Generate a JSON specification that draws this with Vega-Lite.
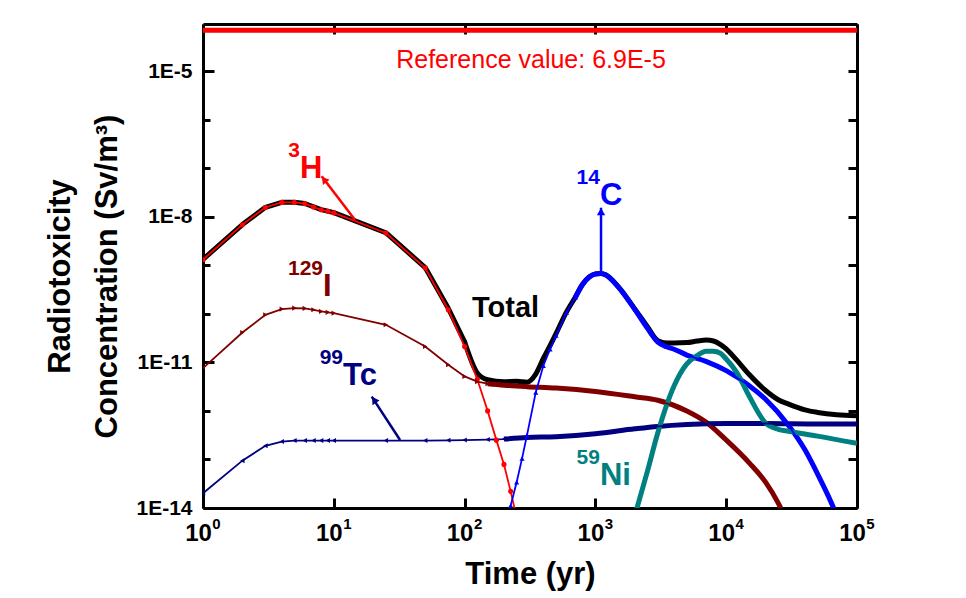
{
  "$schema": "https://vega.github.io/schema/vega-lite/v6.json",
  "width": 654,
  "height": 484,
  "autosize": {"type": "none"},
  "padding": {"left": 203, "top": 24, "right": 109, "bottom": 90},
  "background": "white",
  "config": {
    "view": {"stroke": null},
    "font": "Liberation Sans",
    "axis": {
      "domainColor": "black", "domainWidth": 3,
      "tickColor": "black", "tickWidth": 3,
      "grid": false,
      "labelFont": "Liberation Sans", "labelFontWeight": "bold", "labelColor": "black",
      "titleFont": "Liberation Sans", "titleFontWeight": "bold", "titleColor": "black",
      "labelFlush": false, "labelOverlap": false, "labelBound": false
    }
  },
  "datasets": {
    "curves": [
      {"s": "H3", "t": 1, "v": 1.30e-9}, {"s": "H3", "t": 2, "v": 6.84e-9}, {"s": "H3", "t": 3, "v": 1.55e-8}, {"s": "H3", "t": 4, "v": 1.97e-8}, {"s": "H3", "t": 5, "v": 1.97e-8}, {"s": "H3", "t": 6, "v": 1.86e-8}, {"s": "H3", "t": 7, "v": 1.58e-8}, {"s": "H3", "t": 8, "v": 1.39e-8}, {"s": "H3", "t": 9, "v": 1.29e-8}, {"s": "H3", "t": 10, "v": 1.20e-8}, {"s": "H3", "t": 25, "v": 4.61e-9}, {"s": "H3", "t": 50, "v": 8.75e-10}, {"s": "H3", "t": 75, "v": 1.21e-10}, {"s": "H3", "t": 100, "v": 2.12e-11}, {"s": "H3", "t": 125, "v": 4.47e-12}, {"s": "H3", "t": 150, "v": 1.0e-12}, {"s": "H3", "t": 175, "v": 2.5e-13}, {"s": "H3", "t": 200, "v": 7.9e-14}, {"s": "H3", "t": 225, "v": 2.2e-14}, {"s": "H3", "t": 250, "v": 6.3e-15},
      {"s": "I129", "t": 1, "v": 7.59e-12}, {"s": "I129", "t": 2, "v": 4.12e-11}, {"s": "I129", "t": 3, "v": 9.53e-11}, {"s": "I129", "t": 4, "v": 1.25e-10}, {"s": "I129", "t": 5, "v": 1.31e-10}, {"s": "I129", "t": 6, "v": 1.29e-10}, {"s": "I129", "t": 7, "v": 1.21e-10}, {"s": "I129", "t": 8, "v": 1.12e-10}, {"s": "I129", "t": 9, "v": 1.07e-10}, {"s": "I129", "t": 10, "v": 1.03e-10}, {"s": "I129", "t": 25, "v": 5.93e-11}, {"s": "I129", "t": 50, "v": 2.12e-11}, {"s": "I129", "t": 75, "v": 8.91e-12}, {"s": "I129", "t": 100, "v": 5.13e-12}, {"s": "I129", "t": 125, "v": 4.0e-12}, {"s": "I129", "t": 150, "v": 3.63e-12}, {"s": "I129", "t": 200, "v": 3.39e-12}, {"s": "I129", "t": 300, "v": 3.16e-12}, {"s": "I129", "t": 500, "v": 2.95e-12}, {"s": "I129", "t": 1000, "v": 2.51e-12}, {"s": "I129", "t": 2000, "v": 1.95e-12}, {"s": "I129", "t": 3000, "v": 1.66e-12}, {"s": "I129", "t": 5000, "v": 1.0e-12}, {"s": "I129", "t": 7000, "v": 5.9e-13}, {"s": "I129", "t": 10000, "v": 2.51e-13}, {"s": "I129", "t": 15000, "v": 8.5e-14}, {"s": "I129", "t": 20000, "v": 3.4e-14}, {"s": "I129", "t": 25000, "v": 1.26e-14}, {"s": "I129", "t": 30000, "v": 4.5e-15},
      {"s": "Tc99", "t": 1, "v": 2.01e-14}, {"s": "Tc99", "t": 2, "v": 9.44e-14}, {"s": "Tc99", "t": 3, "v": 1.91e-13}, {"s": "Tc99", "t": 4, "v": 2.34e-13}, {"s": "Tc99", "t": 5, "v": 2.45e-13}, {"s": "Tc99", "t": 6, "v": 2.45e-13}, {"s": "Tc99", "t": 7, "v": 2.45e-13}, {"s": "Tc99", "t": 8, "v": 2.45e-13}, {"s": "Tc99", "t": 9, "v": 2.45e-13}, {"s": "Tc99", "t": 10, "v": 2.45e-13}, {"s": "Tc99", "t": 25, "v": 2.45e-13}, {"s": "Tc99", "t": 50, "v": 2.45e-13}, {"s": "Tc99", "t": 75, "v": 2.48e-13}, {"s": "Tc99", "t": 100, "v": 2.51e-13}, {"s": "Tc99", "t": 150, "v": 2.57e-13}, {"s": "Tc99", "t": 200, "v": 2.63e-13}, {"s": "Tc99", "t": 300, "v": 2.82e-13}, {"s": "Tc99", "t": 500, "v": 2.95e-13}, {"s": "Tc99", "t": 1000, "v": 3.39e-13}, {"s": "Tc99", "t": 2000, "v": 4.27e-13}, {"s": "Tc99", "t": 3000, "v": 4.79e-13}, {"s": "Tc99", "t": 5000, "v": 5.25e-13}, {"s": "Tc99", "t": 10000, "v": 5.5e-13}, {"s": "Tc99", "t": 20000, "v": 5.5e-13}, {"s": "Tc99", "t": 50000, "v": 5.37e-13}, {"s": "Tc99", "t": 100000, "v": 5.37e-13},
      {"s": "C14", "t": 200, "v": 3.3e-15}, {"s": "C14", "t": 225, "v": 1.12e-14}, {"s": "C14", "t": 250, "v": 3.39e-14}, {"s": "C14", "t": 275, "v": 1.05e-13}, {"s": "C14", "t": 300, "v": 3.16e-13}, {"s": "C14", "t": 350, "v": 2.4e-12}, {"s": "C14", "t": 400, "v": 8.51e-12}, {"s": "C14", "t": 450, "v": 1.86e-11}, {"s": "C14", "t": 500, "v": 3.55e-11}, {"s": "C14", "t": 600, "v": 1.05e-10}, {"s": "C14", "t": 700, "v": 2.14e-10}, {"s": "C14", "t": 800, "v": 4.07e-10}, {"s": "C14", "t": 900, "v": 5.75e-10}, {"s": "C14", "t": 1000, "v": 6.61e-10}, {"s": "C14", "t": 1100, "v": 6.76e-10}, {"s": "C14", "t": 1200, "v": 6.31e-10}, {"s": "C14", "t": 1500, "v": 3.55e-10}, {"s": "C14", "t": 2000, "v": 1.23e-10}, {"s": "C14", "t": 2500, "v": 5.0e-11}, {"s": "C14", "t": 3000, "v": 2.6e-11}, {"s": "C14", "t": 3500, "v": 2.09e-11}, {"s": "C14", "t": 4000, "v": 1.86e-11}, {"s": "C14", "t": 5000, "v": 1.41e-11}, {"s": "C14", "t": 7000, "v": 1.05e-11}, {"s": "C14", "t": 10000, "v": 6.76e-12}, {"s": "C14", "t": 15000, "v": 3.31e-12}, {"s": "C14", "t": 20000, "v": 1.74e-12}, {"s": "C14", "t": 30000, "v": 5.01e-13}, {"s": "C14", "t": 40000, "v": 1.58e-13}, {"s": "C14", "t": 50000, "v": 5.0e-14}, {"s": "C14", "t": 60000, "v": 1.82e-14}, {"s": "C14", "t": 70000, "v": 7.1e-15},
      {"s": "Ni59", "t": 2000, "v": 6.9e-15}, {"s": "Ni59", "t": 2500, "v": 5.75e-14}, {"s": "Ni59", "t": 3000, "v": 3.55e-13}, {"s": "Ni59", "t": 4000, "v": 3.31e-12}, {"s": "Ni59", "t": 5000, "v": 9.33e-12}, {"s": "Ni59", "t": 6000, "v": 1.38e-11}, {"s": "Ni59", "t": 7000, "v": 1.7e-11}, {"s": "Ni59", "t": 8000, "v": 1.7e-11}, {"s": "Ni59", "t": 9000, "v": 1.55e-11}, {"s": "Ni59", "t": 10000, "v": 1.17e-11}, {"s": "Ni59", "t": 12000, "v": 6.31e-12}, {"s": "Ni59", "t": 15000, "v": 2.0e-12}, {"s": "Ni59", "t": 20000, "v": 5.62e-13}, {"s": "Ni59", "t": 25000, "v": 4.17e-13}, {"s": "Ni59", "t": 30000, "v": 3.8e-13}, {"s": "Ni59", "t": 50000, "v": 3.02e-13}, {"s": "Ni59", "t": 100000, "v": 2.14e-13},
      {"s": "Total", "t": 1, "v": 1.32e-9}, {"s": "Total", "t": 2, "v": 6.9e-9}, {"s": "Total", "t": 3, "v": 1.56e-8}, {"s": "Total", "t": 4, "v": 1.98e-8}, {"s": "Total", "t": 5, "v": 1.98e-8}, {"s": "Total", "t": 6, "v": 1.87e-8}, {"s": "Total", "t": 7, "v": 1.6e-8}, {"s": "Total", "t": 8, "v": 1.4e-8}, {"s": "Total", "t": 9, "v": 1.3e-8}, {"s": "Total", "t": 10, "v": 1.21e-8}, {"s": "Total", "t": 25, "v": 4.67e-9}, {"s": "Total", "t": 50, "v": 8.96e-10}, {"s": "Total", "t": 75, "v": 1.3e-10}, {"s": "Total", "t": 100, "v": 2.64e-11}, {"s": "Total", "t": 125, "v": 6.03e-12}, {"s": "Total", "t": 150, "v": 4.37e-12}, {"s": "Total", "t": 200, "v": 3.98e-12}, {"s": "Total", "t": 250, "v": 4.07e-12}, {"s": "Total", "t": 300, "v": 3.9e-12}, {"s": "Total", "t": 350, "v": 5.75e-12}, {"s": "Total", "t": 400, "v": 1.2e-11}, {"s": "Total", "t": 450, "v": 2.2e-11}, {"s": "Total", "t": 500, "v": 3.9e-11}, {"s": "Total", "t": 600, "v": 1.08e-10}, {"s": "Total", "t": 700, "v": 2.17e-10}, {"s": "Total", "t": 800, "v": 4.1e-10}, {"s": "Total", "t": 900, "v": 5.78e-10}, {"s": "Total", "t": 1000, "v": 6.64e-10}, {"s": "Total", "t": 1100, "v": 6.79e-10}, {"s": "Total", "t": 1200, "v": 6.34e-10}, {"s": "Total", "t": 1500, "v": 3.58e-10}, {"s": "Total", "t": 2000, "v": 1.26e-10}, {"s": "Total", "t": 2500, "v": 5.4e-11}, {"s": "Total", "t": 3000, "v": 2.8e-11}, {"s": "Total", "t": 3500, "v": 2.5e-11}, {"s": "Total", "t": 4000, "v": 2.5e-11}, {"s": "Total", "t": 5000, "v": 2.55e-11}, {"s": "Total", "t": 6000, "v": 2.75e-11}, {"s": "Total", "t": 7000, "v": 2.88e-11}, {"s": "Total", "t": 8000, "v": 2.75e-11}, {"s": "Total", "t": 9000, "v": 2.35e-11}, {"s": "Total", "t": 10000, "v": 1.9e-11}, {"s": "Total", "t": 12000, "v": 1.12e-11}, {"s": "Total", "t": 15000, "v": 5.6e-12}, {"s": "Total", "t": 20000, "v": 2.63e-12}, {"s": "Total", "t": 25000, "v": 1.7e-12}, {"s": "Total", "t": 30000, "v": 1.38e-12}, {"s": "Total", "t": 40000, "v": 1.05e-12}, {"s": "Total", "t": 50000, "v": 9.3e-13}, {"s": "Total", "t": 70000, "v": 8.3e-13}, {"s": "Total", "t": 100000, "v": 7.9e-13}
    ],
    "refline": [
      {"s": "Ref", "t": 1, "v": 6.9e-5},
      {"s": "Ref", "t": 100000, "v": 6.9e-5}
    ],
    "reflabel": [
      {"s": "Ref", "label": "Reference value: 6.9E-5", "t": 321.8, "v": 1.18e-5}
    ],
    "notes": [
      {"s": "H3", "el": "H", "sup": "3", "t": 5.52, "v": 6.37e-8},
      {"s": "I129", "el": "I", "sup": "129", "t": 8.27, "v": 2.28e-10},
      {"s": "Tc99", "el": "Tc", "sup": "99", "t": 11.76, "v": 3.44e-12},
      {"s": "C14", "el": "C", "sup": "14", "t": 1084, "v": 1.77e-8},
      {"s": "Ni59", "el": "Ni", "sup": "59", "t": 1084, "v": 2.98e-14}
    ],
    "total_label": [
      {"s": "Total", "el": "Total", "t": 113.9, "v": 8.67e-11}
    ],
    "arrows": [
      {"s": "H3", "t": 14.5, "v": 8.67e-9, "t2": 8.08, "v2": 6.78e-8, "th": 8.42, "vh": 5.82e-8},
      {"s": "Tc99", "t": 32.1, "v": 2.52e-13, "t2": 19.5, "v2": 1.97e-12, "th": 20.3, "vh": 1.69e-12},
      {"s": "C14", "t": 1104, "v": 7.34e-10, "t2": 1104, "v2": 1.53e-8, "th": 1104, "vh": 1.27e-8}
    ]
  },
  "resolve": {"axis": {"x": "independent", "y": "independent"}},
  "layer": [
    {
      "data": {"name": "refline"},
      "mark": {"type": "line", "color": "#FF0000", "strokeWidth": 5, "clip": true},
      "encoding": {
        "x": {"field": "t", "type": "quantitative", "scale": {"type": "log", "domain": [1, 100000], "nice": false},
          "axis": {"orient": "top", "values": [1, 10, 100, 1000, 10000, 100000], "labels": false, "tickSize": -10, "title": null}},
        "y": {"field": "v", "type": "quantitative", "scale": {"type": "log", "domain": [1e-14, 9.3e-5], "nice": false},
          "axis": {"orient": "right", "values": [1e-14, 1e-13, 1e-12, 1e-11, 1e-10, 1e-9, 1e-8, 1e-7, 1e-6, 1e-5], "labels": false, "tickSize": -9, "title": null}}
      }
    },
    {
      "data": {"name": "curves"},
      "transform": [{"filter": "datum.s == 'Total' && datum.t <= 100"}],
      "mark": {"type": "line", "color": "#000000", "strokeWidth": 5, "clip": true, "strokeCap": "round", "strokeJoin": "round"},
      "encoding": {
        "x": {"field": "t", "type": "quantitative", "scale": {"type": "log", "domain": [1, 100000], "nice": false},
          "axis": {"orient": "bottom", "values": [1, 10, 100, 1000, 10000, 100000], "tickSize": -10,
            "labelExpr": "'10'",
            "labelFontSize": 24, "labelPadding": 23, "labelOffset": -5,
            "title": "Time (yr)", "titleFontSize": 31, "titleY": 75, "titleBaseline": "alphabetic"}},
        "y": {"field": "v", "type": "quantitative", "scale": {"type": "log", "domain": [1e-14, 9.3e-5], "nice": false},
          "axis": {"orient": "left", "values": [1e-14, 1e-13, 1e-12, 1e-11, 1e-10, 1e-9, 1e-8, 1e-7, 1e-6, 1e-5],
            "tickSize": {"condition": {"test": "round(log(datum.value)/LN10) % 3 == -2", "value": -11}, "value": -7},
            "labelExpr": "(round(log(datum.value)/LN10) % 3 == -2) ? '1E' + round(log(datum.value)/LN10) : ''",
            "labelFontSize": 21, "labelPadding": 22,
            "title": ["Radiotoxicity", "Concentration (Sv/m³)"], "titleFontSize": 31, "titleLineHeight": 47,
            "titleAngle": -90, "titleAlign": "center", "titleBaseline": "alphabetic", "titleX": -134, "titleY": 252}}
      }
    },
    {
      "data": {"name": "curves"},
      "transform": [{"filter": "datum.s == 'Total' && datum.t >= 100"}],
      "mark": {"type": "line", "color": "#000000", "strokeWidth": 5, "clip": true, "interpolate": "monotone", "strokeCap": "round"},
      "encoding": {
        "x": {"field": "t", "type": "quantitative", "scale": {"type": "log", "domain": [1, 100000], "nice": false}, "axis": null},
        "y": {"field": "v", "type": "quantitative", "scale": {"type": "log", "domain": [1e-14, 9.3e-5], "nice": false}, "axis": null}
      }
    },
    {
      "data": {"name": "curves"},
      "transform": [{"filter": "(datum.s == 'I129' && datum.t >= 150) || (datum.s == 'Tc99' && datum.t >= 200) || (datum.s == 'C14' && datum.t >= 700)"}],
      "mark": {"type": "line", "strokeWidth": 5, "clip": true, "interpolate": "monotone"},
      "encoding": {
        "x": {"field": "t", "type": "quantitative", "scale": {"type": "log", "domain": [1, 100000], "nice": false}, "axis": null},
        "y": {"field": "v", "type": "quantitative", "scale": {"type": "log", "domain": [1e-14, 9.3e-5], "nice": false}, "axis": null},
        "color": {"field": "s", "type": "nominal", "legend": null,
          "scale": {"domain": ["H3", "I129", "Tc99", "C14", "Ni59", "Total", "Ref"], "range": ["#FF0000", "#800000", "#000080", "#0000FF", "#008080", "#000000", "#FF0000"]}}
      }
    },
    {
      "data": {"name": "curves"},
      "transform": [{"filter": "datum.s == 'Ni59'"}],
      "mark": {"type": "line", "color": "#008080", "strokeWidth": 5, "clip": true, "interpolate": "monotone"},
      "encoding": {
        "x": {"field": "t", "type": "quantitative", "scale": {"type": "log", "domain": [1, 100000], "nice": false},
          "axis": {"orient": "bottom", "values": [1, 10, 100, 1000, 10000, 100000],
            "labelExpr": "['0','1','2','3','4','5'][round(log(datum.value)/LN10)]",
            "labelFontSize": 15, "labelPadding": 8, "labelOffset": 13,
            "domain": false, "ticks": false, "tickSize": 0, "title": null}},
        "y": {"field": "v", "type": "quantitative", "scale": {"type": "log", "domain": [1e-14, 9.3e-5], "nice": false}, "axis": null}
      }
    },
    {
      "data": {"name": "curves"},
      "transform": [{"filter": "datum.s == 'I129' || datum.s == 'Tc99' || datum.s == 'C14' || datum.s == 'H3'"}],
      "mark": {"type": "line", "strokeWidth": 1.8, "clip": true},
      "encoding": {
        "x": {"field": "t", "type": "quantitative", "scale": {"type": "log", "domain": [1, 100000], "nice": false}, "axis": null},
        "y": {"field": "v", "type": "quantitative", "scale": {"type": "log", "domain": [1e-14, 9.3e-5], "nice": false}, "axis": null},
        "color": {"field": "s", "type": "nominal", "legend": null,
          "scale": {"domain": ["H3", "I129", "Tc99", "C14", "Ni59", "Total", "Ref"], "range": ["#FF0000", "#800000", "#000080", "#0000FF", "#008080", "#000000", "#FF0000"]}}
      }
    },
    {
      "data": {"name": "curves"},
      "transform": [{"filter": "datum.s == 'H3' || (datum.s == 'I129' && datum.t <= 150) || (datum.s == 'Tc99' && datum.t <= 200) || (datum.s == 'C14' && datum.t <= 700)"}],
      "mark": {"type": "point", "filled": true, "opacity": 1, "size": 26, "clip": true},
      "encoding": {
        "x": {"field": "t", "type": "quantitative", "scale": {"type": "log", "domain": [1, 100000], "nice": false}, "axis": null},
        "y": {"field": "v", "type": "quantitative", "scale": {"type": "log", "domain": [1e-14, 9.3e-5], "nice": false}, "axis": null},
        "color": {"field": "s", "type": "nominal", "legend": null,
          "scale": {"domain": ["H3", "I129", "Tc99", "C14", "Ni59", "Total", "Ref"], "range": ["#FF0000", "#800000", "#000080", "#0000FF", "#008080", "#000000", "#FF0000"]}},
        "shape": {"field": "s", "type": "nominal", "legend": null,
          "scale": {"domain": ["H3", "I129", "Tc99", "C14"], "range": ["circle", "triangle-right", "triangle-left", "triangle-up"]}}
      }
    },
    {
      "data": {"name": "arrows"},
      "mark": {"type": "rule", "strokeWidth": 2.5},
      "encoding": {
        "x": {"field": "t", "type": "quantitative", "scale": {"type": "log", "domain": [1, 100000], "nice": false}, "axis": null},
        "y": {"field": "v", "type": "quantitative", "scale": {"type": "log", "domain": [1e-14, 9.3e-5], "nice": false}, "axis": null},
        "x2": {"field": "t2"},
        "y2": {"field": "v2"},
        "color": {"field": "s", "type": "nominal", "legend": null,
          "scale": {"domain": ["H3", "I129", "Tc99", "C14", "Ni59", "Total", "Ref"], "range": ["#FF0000", "#800000", "#000080", "#0000FF", "#008080", "#000000", "#FF0000"]}}
      }
    },
    {
      "data": {"name": "arrows"},
      "transform": [{"filter": "datum.s == 'H3'"}],
      "mark": {"type": "point", "shape": "triangle-up", "angle": 322, "size": 70, "filled": true, "opacity": 1, "color": "#FF0000"},
      "encoding": {
        "x": {"field": "th", "type": "quantitative", "scale": {"type": "log", "domain": [1, 100000], "nice": false}, "axis": null},
        "y": {"field": "vh", "type": "quantitative", "scale": {"type": "log", "domain": [1e-14, 9.3e-5], "nice": false}, "axis": null}
      }
    },
    {
      "data": {"name": "arrows"},
      "transform": [{"filter": "datum.s == 'Tc99'"}],
      "mark": {"type": "point", "shape": "triangle-up", "angle": 327, "size": 70, "filled": true, "opacity": 1, "color": "#000080"},
      "encoding": {
        "x": {"field": "th", "type": "quantitative", "scale": {"type": "log", "domain": [1, 100000], "nice": false}, "axis": null},
        "y": {"field": "vh", "type": "quantitative", "scale": {"type": "log", "domain": [1e-14, 9.3e-5], "nice": false}, "axis": null}
      }
    },
    {
      "data": {"name": "arrows"},
      "transform": [{"filter": "datum.s == 'C14'"}],
      "mark": {"type": "point", "shape": "triangle-up", "angle": 0, "size": 70, "filled": true, "opacity": 1, "color": "#0000FF"},
      "encoding": {
        "x": {"field": "th", "type": "quantitative", "scale": {"type": "log", "domain": [1, 100000], "nice": false}, "axis": null},
        "y": {"field": "vh", "type": "quantitative", "scale": {"type": "log", "domain": [1e-14, 9.3e-5], "nice": false}, "axis": null}
      }
    },
    {
      "data": {"name": "notes"},
      "mark": {"type": "text", "fontSize": 31, "fontWeight": "bold", "align": "left", "baseline": "alphabetic"},
      "encoding": {
        "x": {"field": "t", "type": "quantitative", "scale": {"type": "log", "domain": [1, 100000], "nice": false}, "axis": null},
        "y": {"field": "v", "type": "quantitative", "scale": {"type": "log", "domain": [1e-14, 9.3e-5], "nice": false}, "axis": null},
        "text": {"field": "el"},
        "color": {"field": "s", "type": "nominal", "legend": null,
          "scale": {"domain": ["H3", "I129", "Tc99", "C14", "Ni59", "Total", "Ref"], "range": ["#FF0000", "#800000", "#000080", "#0000FF", "#008080", "#000000", "#FF0000"]}}
      }
    },
    {
      "data": {"name": "notes"},
      "mark": {"type": "text", "fontSize": 21, "fontWeight": "bold", "align": "right", "baseline": "alphabetic", "dy": -21},
      "encoding": {
        "x": {"field": "t", "type": "quantitative", "scale": {"type": "log", "domain": [1, 100000], "nice": false}, "axis": null},
        "y": {"field": "v", "type": "quantitative", "scale": {"type": "log", "domain": [1e-14, 9.3e-5], "nice": false}, "axis": null},
        "text": {"field": "sup"},
        "color": {"field": "s", "type": "nominal", "legend": null,
          "scale": {"domain": ["H3", "I129", "Tc99", "C14", "Ni59", "Total", "Ref"], "range": ["#FF0000", "#800000", "#000080", "#0000FF", "#008080", "#000000", "#FF0000"]}}
      }
    },
    {
      "data": {"name": "total_label"},
      "mark": {"type": "text", "fontSize": 29, "fontWeight": "bold", "align": "left", "baseline": "alphabetic", "color": "#000000"},
      "encoding": {
        "x": {"field": "t", "type": "quantitative", "scale": {"type": "log", "domain": [1, 100000], "nice": false}, "axis": null},
        "y": {"field": "v", "type": "quantitative", "scale": {"type": "log", "domain": [1e-14, 9.3e-5], "nice": false}, "axis": null},
        "text": {"field": "el"}
      }
    },
    {
      "data": {"name": "reflabel"},
      "mark": {"type": "text", "fontSize": 25, "fontWeight": "normal", "align": "center", "baseline": "alphabetic", "color": "#FF0000"},
      "encoding": {
        "x": {"field": "t", "type": "quantitative", "scale": {"type": "log", "domain": [1, 100000], "nice": false}, "axis": null},
        "y": {"field": "v", "type": "quantitative", "scale": {"type": "log", "domain": [1e-14, 9.3e-5], "nice": false}, "axis": null},
        "text": {"field": "label"}
      }
    }
  ]
}
